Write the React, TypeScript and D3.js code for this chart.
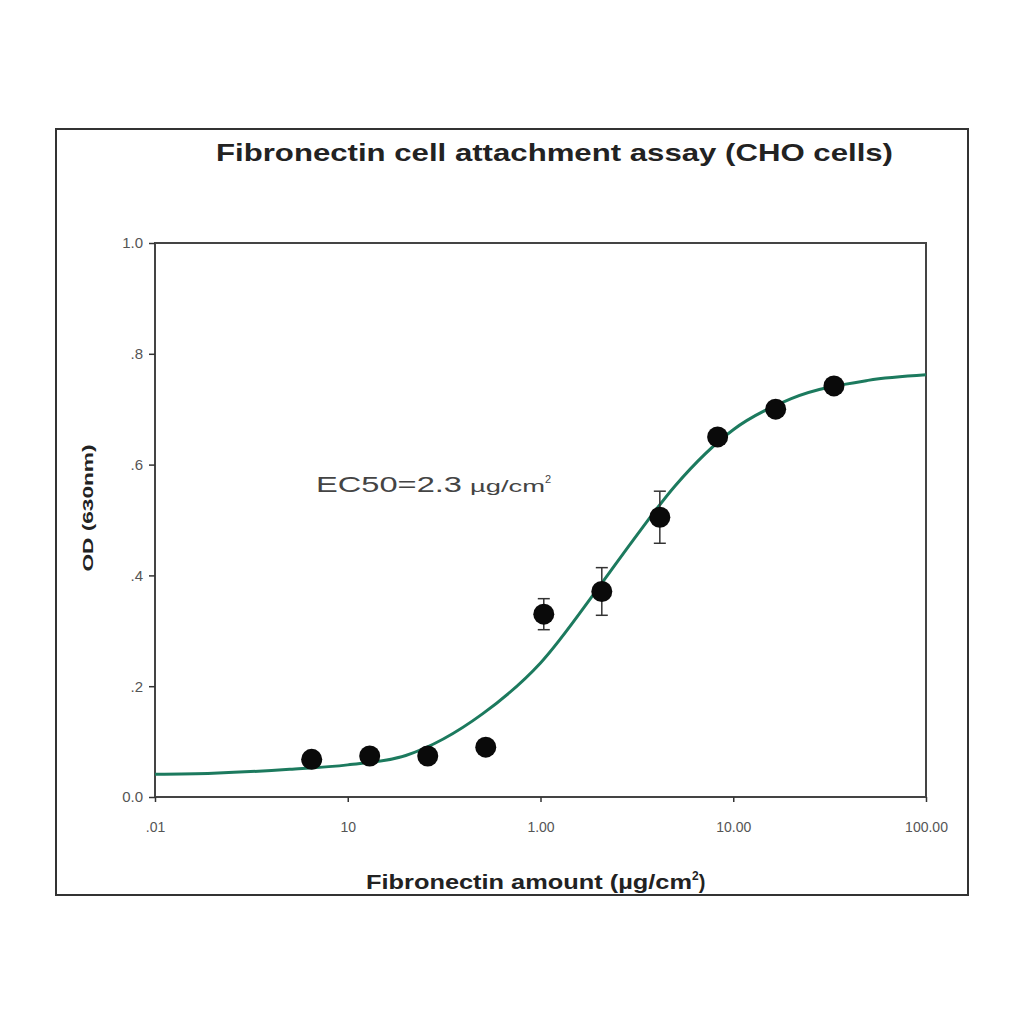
import { useEffect, useRef } from "react"
import * as d3 from "d3"

// measured points (ug/cm2, OD)
const doseValues = [0.065, 0.13, 0.26, 0.52, 1.04, 2.08, 4.16, 8.3, 16.6, 33.3]
const odValues = [0.068, 0.074, 0.074, 0.09, 0.33, 0.371, 0.505, 0.65, 0.70, 0.742]
const odErrors = [0, 0, 0, 0, 0.028, 0.043, 0.047, 0, 0, 0]

// fitted curve
const curveDose = [0.01, 0.02, 0.05, 0.1, 0.2, 0.5, 1, 2, 3, 5, 10, 20, 50, 100]
const curveOd = [0.041, 0.043, 0.05, 0.058, 0.075, 0.15, 0.242, 0.378, 0.462, 0.562, 0.663, 0.719, 0.752, 0.762]

const xTickValues = [0.01, 0.1, 1, 10, 100]
const xTickLabels = [".01", "10", "1.00", "10.00", "100.00"]
const yTickValues = [0, 0.2, 0.4, 0.6, 0.8, 1.0]
const yTickLabels = ["0.0", ".2", ".4", ".6", ".8", "1.0"]

export default function App() {
  const svgRef = useRef<SVGSVGElement | null>(null)

  useEffect(() => {
    if (!svgRef.current) return
    const svg = d3.select(svgRef.current)
    svg.selectAll("*").remove()

    const font = "'Liberation Sans', Arial, sans-serif"
    const plot = { left: 155, right: 926, top: 243, bottom: 797 }

    const x = d3.scaleLog().domain([0.01, 100]).range([plot.left, plot.right])
    const y = d3.scaleLinear().domain([0, 1]).range([plot.bottom, plot.top])

    // outer frame
    svg
      .append("rect")
      .attr("x", 56)
      .attr("y", 129)
      .attr("width", 912)
      .attr("height", 766)
      .attr("fill", "none")
      .attr("stroke", "#333")
      .attr("stroke-width", 2)

    // title (stretched wide like the original)
    svg
      .append("text")
      .attr("x", 216)
      .attr("y", 161)
      .attr("textLength", 677)
      .attr("lengthAdjust", "spacingAndGlyphs")
      .attr("font-family", font)
      .attr("font-weight", "bold")
      .attr("font-size", 24)
      .attr("fill", "#222")
      .text("Fibronectin cell attachment assay (CHO cells)")

    // plot box
    svg
      .append("rect")
      .attr("x", plot.left)
      .attr("y", plot.top)
      .attr("width", plot.right - plot.left)
      .attr("height", plot.bottom - plot.top)
      .attr("fill", "none")
      .attr("stroke", "#444")
      .attr("stroke-width", 2)

    // y axis
    const yAxis = svg
      .append("g")
      .attr("transform", `translate(${plot.left},0)`)
      .call(
        d3
          .axisLeft(y)
          .tickValues(yTickValues)
          .tickSize(6)
          .tickPadding(6)
          .tickFormat((d, i) => yTickLabels[i]),
      )
    yAxis.select(".domain").remove()
    yAxis.selectAll("line").attr("stroke", "#333").attr("stroke-width", 1.5)
    yAxis
      .selectAll("text")
      .attr("font-family", font)
      .attr("font-size", 15)
      .attr("fill", "#555")

    // x axis
    const xAxis = svg
      .append("g")
      .attr("transform", `translate(0,${plot.bottom})`)
      .call(
        d3
          .axisBottom(x)
          .tickValues(xTickValues)
          .tickSize(5)
          .tickPadding(20)
          .tickFormat((d, i) => xTickLabels[i]),
      )
    xAxis.select(".domain").remove()
    xAxis.selectAll("line").attr("stroke", "#333").attr("stroke-width", 1.5)
    xAxis
      .selectAll("text")
      .attr("font-family", font)
      .attr("font-size", 14)
      .attr("fill", "#555")

    // axis labels
    svg
      .append("text")
      .attr("transform", `translate(93,508) rotate(-90)`)
      .attr("text-anchor", "middle")
      .attr("textLength", 127)
      .attr("lengthAdjust", "spacingAndGlyphs")
      .attr("font-family", font)
      .attr("font-weight", "bold")
      .attr("font-size", 15)
      .attr("fill", "#222")
      .text("OD (630nm)")

    const xLabel = svg
      .append("text")
      .attr("x", 366)
      .attr("y", 889)
      .attr("font-family", font)
      .attr("font-weight", "bold")
      .attr("font-size", 20)
      .attr("fill", "#222")
    xLabel
      .append("tspan")
      .attr("textLength", 326)
      .attr("lengthAdjust", "spacingAndGlyphs")
      .text("Fibronectin amount (µg/cm")
    xLabel.append("tspan").attr("font-size", 12).attr("dy", -9).text("2")
    xLabel.append("tspan").attr("dy", 9).text(")")

    // EC50 annotation
    const ec = svg
      .append("text")
      .attr("x", 316)
      .attr("y", 492)
      .attr("font-family", font)
      .attr("font-size", 22)
      .attr("fill", "#444")
    ec.append("tspan").attr("textLength", 146).attr("lengthAdjust", "spacingAndGlyphs").text("EC50=2.3")
    ec
      .append("tspan")
      .attr("dx", 8)
      .attr("font-size", 17)
      .attr("textLength", 75)
      .attr("lengthAdjust", "spacingAndGlyphs")
      .text("µg/cm")
    ec.append("tspan").attr("font-size", 11).attr("dy", -9).text("2")

    // fitted curve
    const line = d3
      .line<number>()
      .x((d, i) => x(curveDose[i]))
      .y((d) => y(d))
      .curve(d3.curveMonotoneX)
    svg
      .append("path")
      .attr("d", line(curveOd))
      .attr("fill", "none")
      .attr("stroke", "#1c7a5e")
      .attr("stroke-width", 3)

    // error bars
    const bars = svg
      .append("g")
      .selectAll("g")
      .data(doseValues.map((d, i) => ({ dose: d, od: odValues[i], err: odErrors[i] })).filter((d) => d.err > 0))
      .enter()
      .append("g")
      .attr("stroke", "#333")
      .attr("stroke-width", 1.5)
    bars
      .append("line")
      .attr("x1", (d) => x(d.dose))
      .attr("x2", (d) => x(d.dose))
      .attr("y1", (d) => y(d.od - d.err))
      .attr("y2", (d) => y(d.od + d.err))
    bars
      .append("line")
      .attr("x1", (d) => x(d.dose) - 6)
      .attr("x2", (d) => x(d.dose) + 6)
      .attr("y1", (d) => y(d.od + d.err))
      .attr("y2", (d) => y(d.od + d.err))
    bars
      .append("line")
      .attr("x1", (d) => x(d.dose) - 6)
      .attr("x2", (d) => x(d.dose) + 6)
      .attr("y1", (d) => y(d.od - d.err))
      .attr("y2", (d) => y(d.od - d.err))

    // points
    svg
      .append("g")
      .selectAll("circle")
      .data(doseValues)
      .enter()
      .append("circle")
      .attr("cx", (d) => x(d))
      .attr("cy", (d, i) => y(odValues[i]))
      .attr("r", 10.5)
      .attr("fill", "#0a0a0a")
  }, [])

  return (
    <svg
      ref={svgRef}
      width={1024}
      height={1024}
      style={{ position: "absolute", left: 0, top: 0, background: "#fff" }}
    ></svg>
  )
}
